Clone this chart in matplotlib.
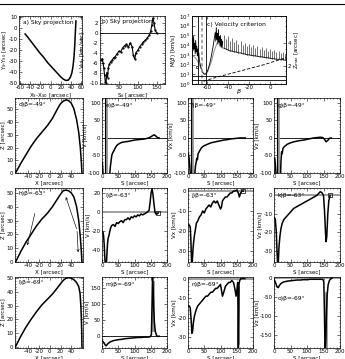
import matplotlib
matplotlib.use('Agg')
import matplotlib.pyplot as plt
from matplotlib.lines import Line2D
import numpy as np

plt.rcParams['font.family'] = ['DejaVu Sans']
plt.rcParams['font.size'] = 4.0
plt.rcParams['mathtext.fontset'] = 'dejavusans'
plt.rcParams['axes.unicode_minus'] = False

nan = np.nan
# ---------------- data ----------------
# a) sky projection
a_x = [-50,-45,-40,-35,-30,-25,-20,-15,-10,-5,0,5,10,15,20,25,30,35,39,42,44,46,47.5,48.5,49.5,50]
a_y = [-5.7,-8.5,-11.5,-14.5,-17.5,-20.5,-23.5,-26,-29,-32,-34.5,-37,-39.5,-42,-44.5,-46.5,-47.8,-47.5,-45,-41,-36,-28,-18,-8,1,6]
# b) sky velocity
b_s = [3,6,8,10,12,14,16,18,20,22,25,28,32,36,40,45,50,55,60,65,70,75,80,85,88,92,95,100,105,110,115,120,125,130,134,137,140,143,146,150]
b_v = [-5.5,-5.2,-6,-7,-8.5,-9.8,-10,-8,-9,-7,-6.3,-5.8,-5.5,-5,-4.8,-4.2,-3.7,-3.8,-3,-2.6,-2.3,-2.9,-2,-2.8,-4.5,-5.3,-4.0,-3.5,-2.8,-2.3,-1.8,-1.5,-1,-0.5,0.3,1.5,3,2,0.5,0]
# c) velocity criterion
c_beta = [-74,-73.5,-73,-72.5,-72,-71.5,-71,-70.5,-70,-69.5,-69,-68.5,-68,-67.5,-67,-66,-65,-64,-63,-62,-61,-60,-59,-58,-57,-56,-55,-54,-53,-52,-51.5,-51,-50.5,-50,-49.5,-49,-48.5,-48,-47.5,-47,-46.5,-46,-45.5,-45]
c_logm = [3.8,4.6,3.4,4.9,3.6,4.2,3.1,4.5,3.3,3.9,2.9,3.6,2.7,3.2,2.4,1.9,1.5,1.2,1.05,1.0,1.05,1.2,1.45,1.8,2.2,2.7,3.3,3.9,4.6,5.3,4.4,5.8,4.6,5.2,4.1,5.6,4.3,4.9,3.9,5.0,3.8,4.6,3.7,4.4]
c_spike_beta = [-44,-42,-40,-38,-36,-34,-32,-30,-28,-26,-24,-22,-20,-18,-16,-14,-12,-10,-8,-6,-4,-2,0,2,4,6,8,10,12,14]
c_spike_top  = [5.0,4.6,4.9,4.4,4.7,4.3,4.5,4.1,4.4,4.0,4.2,3.9,4.1,3.8,4.0,3.7,3.9,3.6,3.8,3.5,3.7,3.4,3.6,3.4,3.5,3.3,3.4,3.2,3.3,3.1]
c_spike_base = [3.7,3.6,3.5,3.4,3.4,3.3,3.3,3.2,3.2,3.1,3.1,3.0,3.0,2.95,2.9,2.9,2.85,2.8,2.8,2.75,2.7,2.7,2.65,2.6,2.6,2.55,2.55,2.5,2.5,2.45]
c_model_beta = [-74,-70,-67,-65,-63,-61,-59,-56,-53,-50]
c_model_logm = [3.0,2.6,2.0,1.5,1.1,1.0,1.3,2.2,3.4,4.3]
c_zmax_beta = [-63,-55,-45,-35,-25,-15,-5,5,15]
c_zmax = [0.6,0.85,1.1,1.35,1.6,1.85,2.1,2.4,2.7]
c_vlines = [-68.5,-61]
c_vdash = -65
c_hlines = [7.0,2.6]
# d/h/l) loop geometry
d_x = [-64,-55,-45,-35,-25,-15,-5,0,5,10,15,20,25,30,35,40,45,50,54,57,59,60]
d_z = [0,7,14,21,27,32,37,40,43,47,51,54.5,56.5,57.5,57,55,50.5,42,32,20,8,0]
h_x = [-64,-55,-45,-35,-25,-15,-5,0,5,10,15,20,25,30,35,40,45,50,54,57,59,60]
h_z = [0,7,14,20,26,31,35,37.5,40,43,46,49,51.5,52,51.5,50,47,40,30,18,7,0]
l_x = [-64,-55,-45,-35,-25,-15,-5,0,5,10,15,20,25,30,35,40,45,50,54,56.5,58,59,59.7,60]
l_z = [0,7,14,20,25.5,30.5,34.5,36.5,38.5,41,43.5,46,48.5,50,50.5,50.2,49,47,44,39,30,20,9,0]
# e/f/g) beta = -49
e_s = [1,3,nan,24,26,28,30,33,36,40,45,50,55,60,70,80,90,100,110,120,130,140,148,155,160,164,168,172,176]
e_v = [-70,-100,nan,-100,-80,-65,-50,-42,-38,-30,-22,-18,-15,-13,-11,-10,-8,-6,-5,-4,-3,-1,2,6,9,7,3,1,0]
f_s = [1,3,5,7,nan,21,23,25,27,29,31,34,37,40,45,50,60,70,80,90,100,110,120,130,140,150,160,170,176]
f_v = [-45,-55,-75,-100,nan,-100,-80,-70,-58,-62,-45,-40,-35,-30,-25,-22,-18,-14,-12,-10,-8,-6,-5,-3,-2,-1,0,0,0]
g_s = [2,4,6,nan,20,21,23,25,27,30,35,40,50,60,75,90,100,110,120,130,140,148,153,158,163,168,174]
g_v = [-57,-75,-100,nan,-100,-70,-40,-45,-30,-26,-22,-18,-14,-11,-8,-6,-4,-2,0,1,2,1,-4,-11,-7,-1,0]
efg_black = [8,12]
efg_gray = 16
# i/j/k) beta = -63
i_s = [1,3,5,7,9,11,13,15,17,19,21,24,27,30,35,40,45,50,55,60,65,70,75,80,85,90,95,100,105,110,115,120,125,130,135,140,145,148,151,154,157,160,163,166,170,173]
i_v = [-20,-21,-25,-35,-50,-56,-56,-45,-33,-27,-25,-20,-16,-14,-13,-15,-11,-12,-10,-9,-11,-8,-8,-6,-8,-5,-6,-4,-5,-3,-4,-2,-3,-2,-1,0,2,10,20,24,18,8,0,-2,-2,-1]
j_s = [1,4,7,9,11,13,15,17,20,23,26,30,35,40,45,50,55,60,65,70,75,80,85,90,95,100,103,106,110,115,120,125,130,135,140,145,150,155,158,162,166,170]
j_v = [-17,-17,-18,-25,-36,-36,-30,-26,-22,-19,-16,-15,-13,-12,-10,-11,-9,-8,-7,-8,-6,-5,-6,-5,-7,-9,-8,-5,-4,-3,-3,-2,-1,-1,0,0,0.5,-1,-3,-1,0,0]
k_s = [1,4,7,9,11,13,15,18,21,25,30,35,40,45,50,55,60,70,80,90,100,110,120,130,135,140,145,150,153,156,158,160,163,166,170]
k_v = [-12,-13,-20,-30,-37,-37,-28,-22,-18,-15,-13,-12,-11,-10,-9,-8,-7,-6,-5,-4,-3,-2,-1,0,1,2,1.5,0,-8,-20,-25,-22,-10,-3,0]
# m/n/o) beta = -69
m_s = [1,4,7,10,13,16,20,25,30,35,40,50,60,70,80,90,100,110,120,130,140,148,152,154,155.5,157,159,161,164,168,172,176]
m_v = [-15,-18,-22,-28,-30,-26,-22,-18,-16,-14,-13,-11,-10,-8,-7,-6,-5,-4,-4,-3,-3,-2,5,100,185,150,90,45,15,2,-1,0]
n_s = [1,4,7,10,12,14,17,20,25,30,35,40,45,50,55,60,65,70,75,80,85,90,95,100,103,106,110,115,120,125,130,135,140,144,148,151,153,154,155,156,157,159,163,168,175]
n_v = [-14,-14,-15,-22,-28,-27,-22,-19,-16,-14,-13,-12,-11,-10,-9,-9,-8,-7,-7,-6,-5,-5,-4,-3,-6,-9,-7,-4,-3,-2,-2,-1,-2,-5,-9,-5,-2,-15,-36,-20,-3,-1,0,0,0]
o_s = [1,4,7,10,13,16,20,25,30,40,50,60,70,80,90,100,110,120,130,140,148,151,153,154.5,156,157.5,159,161,164,168,172,176]
o_v = [-5,-10,-18,-24,-25,-20,-15,-12,-10,-8,-7,-6,-5,-5,-4,-4,-3,-3,-3,-3,-3,-10,-100,-185,-185,-150,-90,-45,-18,-6,-2,0]
m_gray = (156, 20, 170)
n_gray = (155, -5, -33)
o_gray = (157, -40, -180)

# ---------------- figure ----------------
W, H = 345, 359
fig = plt.figure(figsize=(W/100, H/100), dpi=100)
fig.add_artist(Line2D([0, 1], [1-4/H, 1-4/H], transform=fig.transFigure, color='k', lw=0.8))

def mk(l, t, r, b):
    return fig.add_axes([l/W, 1-b/H, (r-l)/W, (b-t)/H])

FS = 4.0
def style(ax, minor=True):
    ax.tick_params(which='both', direction='in', top=True, right=True,
                   labelsize=FS, pad=1.0, width=0.4)
    ax.tick_params(which='major', length=2.0)
    ax.tick_params(which='minor', length=1.0)
    if minor:
        ax.minorticks_on()
    for s in ax.spines.values():
        s.set_linewidth(0.5)
    ax.xaxis.labelpad = 0.6
    ax.yaxis.labelpad = 0.6

LW = 1.1
col_x = [(15, 83), (102, 167), (188, 253), (274, 340)]
row_y = [(98, 173), (188, 262), (277, 348)]

# a
ax = mk(19, 16, 82, 84)
style(ax)
ax.plot(a_x, a_y, color='k', lw=LW)
ax.set_xlim(-62, 62); ax.set_ylim(-51, 10.5)
ax.set_xticks([-60,-40,-20,0,20,40,60]); ax.set_yticks([10,0,-10,-20,-30,-40,-50])
ax.set_xlabel('X$_S$-X$_{S0}$ [arcsec]'); ax.set_ylabel('Y$_S$-Y$_{S0}$ [arcsec]', fontsize=3.8)
ax.yaxis.set_label_coords(-9.5/63, 0.5)
ax.text(0.07, 0.88, 'a) Sky projection', transform=ax.transAxes, fontsize=4.3)

# b
ax = mk(100, 16, 165, 84)
style(ax)
ax.axhline(0, color='k', lw=0.6)
ax.plot(b_s, b_v, color='k', lw=0.8, marker='.', ms=1.2)
ax.set_xlim(0, 172); ax.set_ylim(-10.3, 3.4)
ax.set_xticks([50,100,150]); ax.set_yticks([2,0,-2,-4,-6,-8,-10])
ax.set_xlabel('S$_S$ [arcsec]'); ax.set_ylabel('V$_{Sky}$ [km/sec]')
ax.text(0.03, 0.9, 'b) Sky projection', transform=ax.transAxes, fontsize=4.3)

# c
ax = mk(192, 16, 286, 84)
style(ax, minor=False)
ax.set_yscale('log')
ax.set_xlim(-74, 15); ax.set_ylim(1, 1e7)
ax.plot(c_model_beta, [10**v for v in c_model_logm], color='0.55', lw=0.7)
ax.plot(c_beta, [10**v for v in c_logm], color='k', lw=0.6)
ax.vlines(c_spike_beta, [10**v for v in c_spike_base], [10**v for v in c_spike_top], color='0.35', lw=0.6)
ax.plot(c_spike_beta, [10**v for v in c_spike_base], color='k', lw=0.6)
for v in c_vlines:
    ax.axvline(v, color='k', lw=0.6)
ax.axvline(c_vdash, color='0.6', lw=1.2, ls=(0, (2, 1.5)))
for v in c_hlines:
    ax.axhline(v, color='k', lw=0.6)
ax.plot([-69], [10**1.7], marker='s', ms=2, mfc='none', mec='k', mew=0.5)
ax.set_xticks([-60,-40,-20,0])
ax.xaxis.set_minor_locator(matplotlib.ticker.MultipleLocator(5))
ax.set_yticks([10**k for k in range(8)])
ax.set_yticklabels(['10$^{%d}$' % k for k in range(8)])
ax.tick_params(axis='y', right=False, which='both')
ax.set_ylabel('M($\\beta$) [km/s]')
ax.annotate('$\\beta$', xy=(-30, 0), xycoords=('data', 'axes fraction'),
            xytext=(0, -5.3), textcoords='offset points', ha='center', va='center', fontsize=4.6)
ax.text(0.16, 0.86, 'c) Velocity criterion', transform=ax.transAxes, fontsize=4.3)
ax2 = ax.twinx()
ax2.set_ylim(0.36, 6.4)
ax2.plot(c_zmax_beta, c_zmax, color='k', lw=0.6, ls=(0, (4, 2)))
ax2.set_yticks([2, 4])
ax2.tick_params(which='both', direction='in', labelsize=FS, pad=1.0, width=0.4, length=2.0)
ax2.minorticks_on()
ax2.tick_params(which='minor', length=1.0, width=0.4)
ax2.set_ylabel('Z$_{max}$ [arcsec]', labelpad=1)
for s in ax2.spines.values():
    s.set_linewidth(0.5)

# geometry panels
geo = [(d_x, d_z, (0, 59), 'd)β=-49°'), (h_x, h_z, (0, 53.5), 'h)β=-63°'), (l_x, l_z, (-1, 51), 'l)β=-69°')]
for r, (xx, zz, yl, lab) in enumerate(geo):
    t, b = row_y[r]
    ax = mk(col_x[0][0], t, col_x[0][1], b)
    style(ax)
    ax.plot(xx, zz, color='k', lw=LW)
    ax.set_xlim(-65, 62); ax.set_ylim(*yl)
    ax.set_xticks([-40,-20,0,20,40]); ax.set_yticks([0,10,20,30,40,50])
    ax.set_xlabel('X [arcsec]'); ax.set_ylabel('Z [arcsec]')
    ax.text(0.05, 0.9, lab, transform=ax.transAxes, fontsize=4.3)
    if r == 1:
        ap = dict(arrowstyle='->', lw=0.45, color='k', shrinkA=0, shrinkB=0, mutation_scale=4)
        ax.annotate('', xy=(-42, 12), xytext=(-28, 35), arrowprops=ap)
        ax.annotate('', xy=(30, 47), xytext=(50, 24), arrowprops=ap)
        ax.annotate('', xy=(53, 7), xytext=(51, 22), arrowprops=ap)

# velocity panels
vel = [
    [(e_s, e_v, (-100, 114), [-100,-50,0,50,100], 'V [km/s]', 'e)β=-49°', 'k'),
     (f_s, f_v, (-100, 114), [-100,-50,0,50,100], 'Vx [km/s]', 'f)β=-49°', 'k'),
     (g_s, g_v, (-100, 114), [-100,-50,0,50,100], 'Vz [km/s]', 'g)β=-49°', 'k')],
    [(i_s, i_v, (-52, 25), [20,0,-20,-40], 'V [km/s]', 'i)β=-63°', 'g'),
     (j_s, j_v, (-35.5, 1.5), [0,-10,-20,-30], 'Vx [km/s]', 'j)β=-63°', 'g'),
     (k_s, k_v, (-36, 4), [0,-10,-20,-30], 'Vz [km/s]', 'k)β=-63°', 'g')],
    [(m_s, m_v, (-37, 185), [0,50,100,150], 'V [km/s]', 'm)β=-69°', 'k'),
     (n_s, n_v, (-35.5, 0.8), [0,-10,-20,-30], 'Vx [km/s]', 'n)β=-69°', 'g'),
     (o_s, o_v, (-185, 3), [0,-50,-100,-150], 'Vz [km/s]', 'o)β=-69°', 'g')],
]
grays = {(2, 0): m_gray, (2, 1): n_gray, (2, 2): o_gray}
for r in range(3):
    t, b = row_y[r]
    for c in range(3):
        ss, vv, yl, yt, ylab, lab, hz = vel[r][c]
        ax = mk(col_x[c+1][0], t, col_x[c+1][1], b)
        style(ax)
        if hz == 'k':
            ax.axhline(0, color='k', lw=0.6)
        else:
            ax.axhline(0, color='0.6', lw=1.3)
        if r == 0:
            for v in efg_black:
                ax.axvline(v, color='k', lw=0.8)
            ax.axvline(efg_gray, color='0.6', lw=1.3)
        if (r, c) in grays:
            gx, g0, g1 = grays[(r, c)]
            ax.plot([gx, gx], [g0, g1], color='0.6', lw=2.0)
        ax.plot(ss, vv, color='k', lw=LW)
        if r == 1:
            ax.plot([ss[-1]], [vv[-1]], marker='s', ms=2.6, mfc='none', mec='k', mew=0.5)
        ax.set_xlim(0, 200); ax.set_ylim(*yl)
        ax.set_xticks([0,50,100,150,200]); ax.set_yticks(yt)
        ax.set_xlabel('S [arcsec]'); ax.set_ylabel(ylab)
        if (r, c) == (2, 2):
            ax.text(0.05, 0.68, lab, transform=ax.transAxes, fontsize=4.3)
        else:
            ax.text(0.05, 0.88, lab, transform=ax.transAxes, fontsize=4.3)

fig.savefig('out.png', dpi=100)
